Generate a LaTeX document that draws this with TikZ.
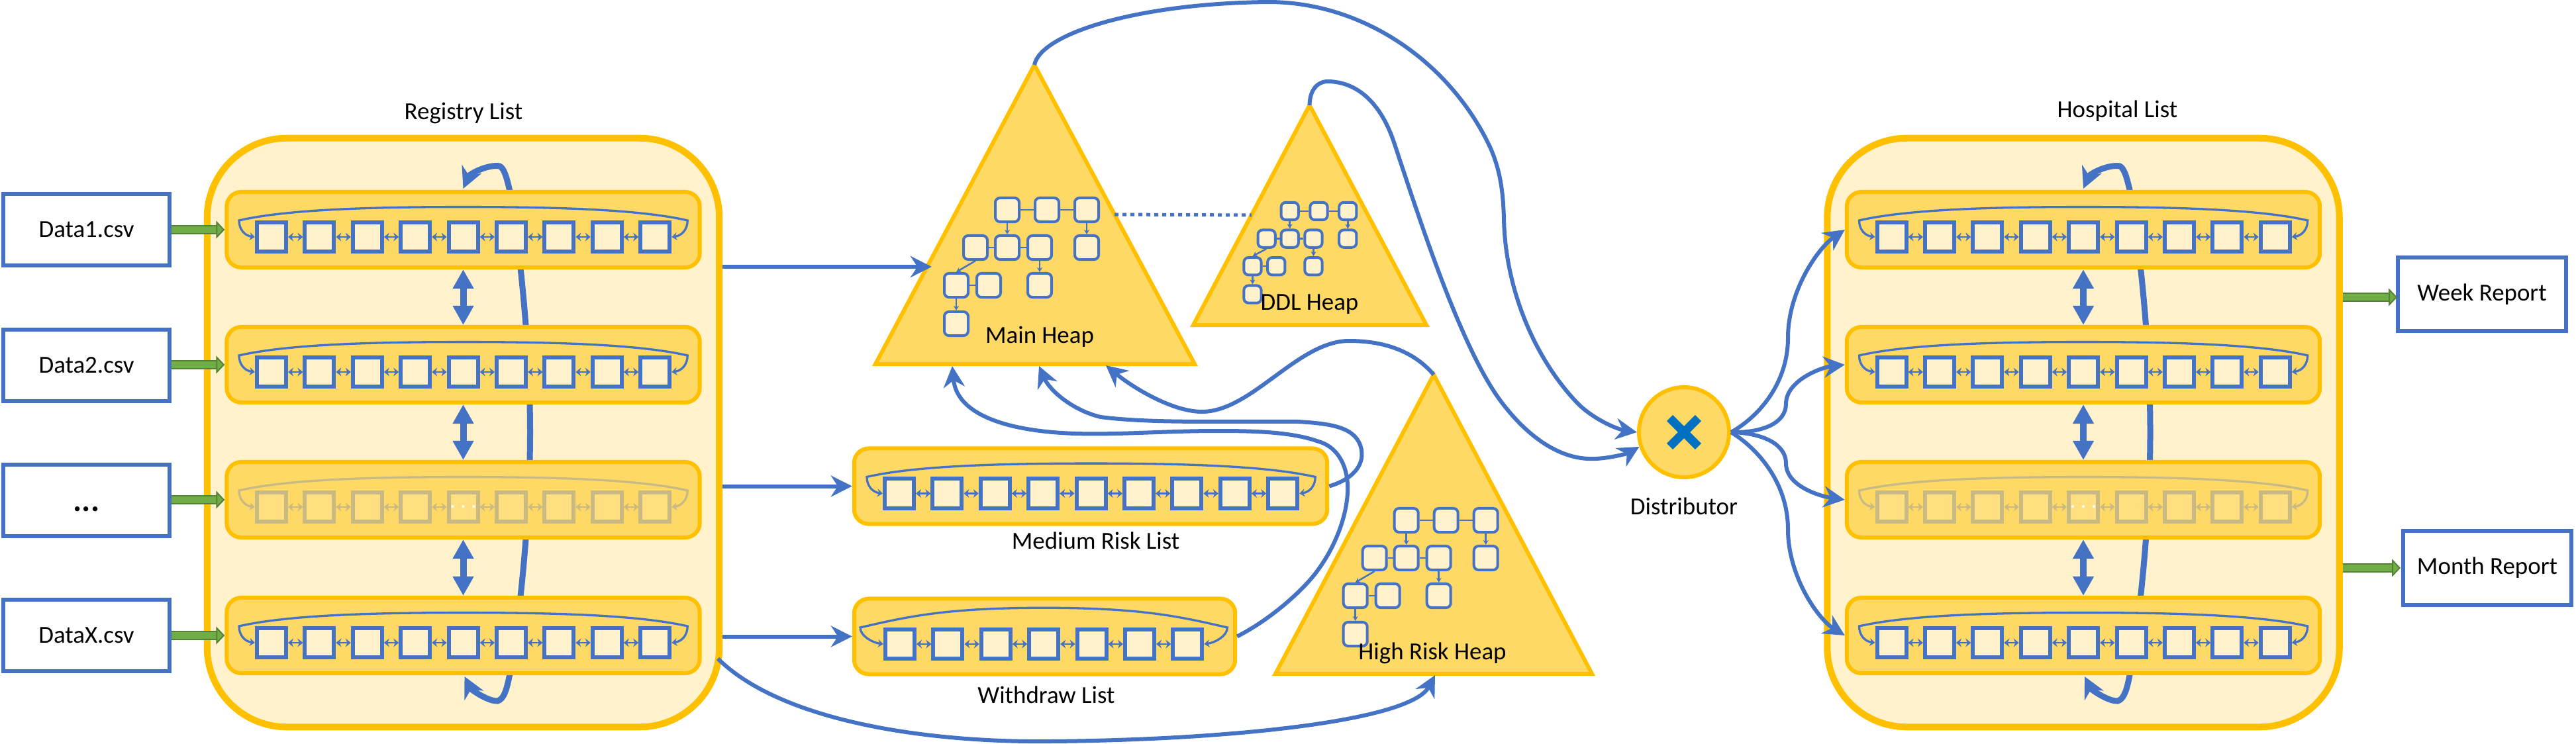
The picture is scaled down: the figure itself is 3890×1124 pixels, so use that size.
\documentclass[tikz,border=0pt]{standalone}
\usepackage{fontspec}
\setmainfont{Carlito}
\usetikzlibrary{arrows.meta}
\usetikzlibrary{calc}

\definecolor{linkblue}{HTML}{4472C4}
\definecolor{crossblue}{HTML}{0070C0}
\definecolor{gold}{HTML}{FFC000}
\definecolor{midyellow}{HTML}{FFD966}
\definecolor{paleyellow}{HTML}{FFF2CC}
\definecolor{greenfill}{HTML}{70AD47}
\definecolor{greenedge}{HTML}{548235}
\definecolor{fadedline}{HTML}{C9BA83}
\definecolor{fadedfill}{HTML}{FFDF80}
\colorlet{cellline}{linkblue}
\colorlet{cellfill}{paleyellow}

\tikzset{
    panel/.style={draw=gold, fill=paleyellow, line width=.1cm, rounded corners=1.2cm, inner sep=0pt, minimum width=7.73cm, minimum height=8.89cm},
    rowbox/.style={draw=gold, fill=midyellow, line width=.06cm, rounded corners=.22cm, inner sep=0pt, minimum height=1.14cm},
    cellbox/.style={draw=cellline, fill=cellfill, line width=.06cm, inner sep=0pt, minimum size=.44cm},
    heapbody/.style={draw=gold, fill=midyellow, line width=.06cm},
    heapcell/.style={draw=linkblue, fill=paleyellow, line width=.04cm, rounded corners=.07cm, inner sep=0pt},
    databox/.style={draw=linkblue, fill=white, line width=.06cm, inner sep=0pt, minimum width=2.51cm, minimum height=1.07cm, font=\fontsize{10.5}{12}\selectfont},
    reportbox/.style={databox, minimum width=2.54cm, minimum height=1.11cm},
    namelabel/.style={inner sep=0pt, font=\fontsize{10.5}{12}\selectfont},
    cellarrow/.style={draw=cellline, line width=.025cm, {Stealth[length=.08cm,width=.13cm]}-{Stealth[length=.08cm,width=.13cm]}},
    cellarc/.style={draw=cellline, line width=.033cm, {Stealth[length=.08cm,width=.12cm]}-{Stealth[length=.08cm,width=.12cm]}},
    rowlink/.style={draw=linkblue, line width=.1cm, {Triangle[length=.29cm,width=.3cm]}-{Triangle[length=.29cm,width=.3cm]}},
    backlink/.style={draw=linkblue, line width=.09cm, {Stealth[length=.32cm,width=.32cm]}-{Stealth[length=.32cm,width=.32cm]}},
    flow/.style={draw=linkblue, line width=.06cm, -{Stealth[length=.32cm,width=.32cm]}},
    feed/.style={draw=greenedge, line width=.02cm, double=greenfill, double distance=.1cm, -{Triangle[length=.13cm,width=.27cm,fill=greenfill]}},
    treebar/.style={draw=linkblue, line width=.025cm},
    treearrow/.style={draw=linkblue, line width=.025cm, -{Stealth[length=.07cm,width=.08cm]}},
}

\newcommand{\celllist}[5]{
    \foreach \cnum [evaluate=\cnum as \cellx using #2+(\cnum-1)*72.4] in {1,...,#4}{
        \node[cellbox] (#1c\cnum) at (\cellx,#3) {};
    }
    \foreach \cnum [remember=\cnum as \prevnum (initially 1)] in {2,...,#4}{
        \draw[cellarrow] (#1c\prevnum) -- (#1c\cnum);
    }
    \coordinate (#1arcl) at ([shift={(-#5,-25)}]#1c1.west);
    \coordinate (#1arcr) at ([shift={(#5,-25)}]#1c#4.east);
    \coordinate (#1arct) at ($(#1arcl)!.5!(#1arcr)+(0,-#5*.85)$);
    \draw[cellarc] (#1c1.west) .. controls +(-16,-2) and +(0,13) .. (#1arcl)
        .. controls +(70,-16) and +(-150,0) .. (#1arct)
        .. controls +(150,0) and +(-70,-16) .. (#1arcr)
        .. controls +(0,13) and +(16,-2) .. (#1c#4.east);
}

\newcommand{\listpanel}[2]{
    \node[panel] (#1) at (#2,653.5) {};
    \coordinate (#1looptop) at (#2,285);
    \coordinate (#1loopbot) at (#2+2,1022);
    \draw[backlink] (#1looptop) .. controls (#2+10,262) and (#2+38,248) .. (#2+55,251)
        .. controls (#2+62,254) and (#2+66,270) .. (#2+70,287)
        .. controls (#2+85,370) and (#2+101,520) .. (#2+101,653)
        .. controls (#2+101,786) and (#2+85,936) .. (#2+70,1020)
        .. controls (#2+66,1040) and (#2+62,1056) .. (#2+52,1059)
        .. controls (#2+38,1060) and (#2+12,1042) .. (#1loopbot);
    \foreach \rownum/\rowy in {1/347,2/551,3/755,4/960}{
        \node[rowbox, minimum width=7.14cm] (#1r\rownum) at (#2,\rowy) {};
        \ifnum\rownum=3
            \colorlet{cellline}{fadedline}
            \colorlet{cellfill}{fadedfill}
        \fi
        \celllist{#1r\rownum}{#2-289.5}{\rowy+11}{9}{24}
    }
    \node[text=white, inner sep=0pt, font=\fontsize{8}{8}\selectfont\bfseries] (#1dots) at (#1r3c5) {.\kern.3em.\kern.3em.};
    \draw[rowlink] (#1r1.south) -- (#1r2.north);
    \draw[rowlink] (#1r2.south) -- (#1r3.north);
    \draw[rowlink] (#1r3.south) -- (#1r4.north);
}

\newcommand{\heaptree}[4]{
    \foreach \tname/\dx/\dy in {a/0/0,b/60/0,c/120/0,d/-48/57,e/0/57,f/49/57,g/120/57,h/-77/114,i/-28/114,j/49/114,k/-77/172}{
        \node[heapcell, minimum size=#4*.36cm] (#1\tname) at (#2+#4*\dx,#3+#4*\dy) {};
    }
    \foreach \ta/\tb in {a/b,b/c,d/e,e/f,h/i}{
        \draw[treebar] (#1\ta) -- (#1\tb);
    }
    \foreach \ta/\tb in {a/e,c/g,f/j,d/h,h/k}{
        \draw[treearrow] (#1\ta.south) -- (#1\tb.north);
    }
}

\begin{document}
\begin{tikzpicture}[x=.01cm, y=-.01cm]
        \useasboundingbox (0,0) rectangle (3890,1124);

        \listpanel{reg}{699.5}
        \listpanel{hosp}{3146}
        \node[namelabel] (reglabel) at (700,171) {Registry List};
        \node[namelabel] (hosplabel) at (3197.5,168) {Hospital List};

        \node[databox] (data1) at (130.5,347) {Data1.csv};
        \node[databox] (data2) at (130.5,552) {Data2.csv};
        \node[databox] (data3) at (130.5,756) {};
        \node[font=\fontsize{14}{14}\selectfont\bfseries, inner sep=0pt] (dots) at (130.5,769) {...};
        \node[databox] (data4) at (130.5,960) {DataX.csv};
        \foreach \rownum in {1,2,3,4}{
            \draw[feed] (data\rownum.east |- regr\rownum.west) -- (regr\rownum.west);
        }

        \node[reportbox] (week) at (3748,444.5) {Week Report};
        \node[reportbox] (month) at (3756,858) {Month Report};
        \coordinate (weekin) at (3620,449);
        \coordinate (monthin) at (3625,858);
        \draw[feed] (hosp.east |- weekin) -- (weekin);
        \draw[feed] (hosp.east |- monthin) -- (monthin);

        \draw[heapbody] (1562,98) coordinate (maintop) -- (1322,550) coordinate (mainleft) -- (1804,550) coordinate (mainright) -- cycle;
        \draw[heapbody] (1977.5,159) coordinate (ddltop) -- (1802,491) coordinate (ddlleft) -- (2154,491) coordinate (ddlright) -- cycle;
        \draw[heapbody] (2165,566) coordinate (hightop) -- (1926,1018) coordinate (highleft) -- (2404,1018) coordinate (highright) -- cycle;
        \heaptree{mt}{1521}{317}{1}
        \heaptree{dt}{1947.7}{319}{.73}
        \heaptree{ht}{2123.7}{786}{1}
        \node[namelabel] (mainlabel) at (1570,509) {Main Heap};
        \node[namelabel] (ddllabel) at (1977.5,460) {DDL Heap};
        \node[namelabel] (highlabel) at (2163,987) {High Risk Heap};
        \draw[linkblue, line width=.05cm, dash pattern=on .06cm off .06cm] ($(maintop)!.5!(mainright)$) -- ($(ddltop)!.5!(ddlleft)$);

        \node[rowbox, minimum width=7.14cm] (med) at (1647,734.5) {};
        \celllist{med}{1358}{745.5}{9}{24}
        \node[namelabel] (medlabel) at (1654.6,817) {Medium Risk List};
        \node[rowbox, minimum width=5.75cm] (wd) at (1577.5,961.5) {};
        \celllist{wd}{1359}{973}{7}{35}
        \node[namelabel] (wdlabel) at (1580,1050) {Withdraw List};

        \coordinate (mainin) at (1407,403);
        \coordinate (mainfoot1) at (1438,553);
        \coordinate (mainfoot2) at (1569,553);
        \coordinate (mainfoot3) at (1670,552);
        \coordinate (regfoot) at (1084,995);
        \coordinate (highfoot) at (2167,1020);
        \draw[flow] (reg.east |- mainin) -- (mainin);
        \draw[flow] (reg.east |- med.west) -- (med.west);
        \draw[flow] (reg.east |- wd.west) -- (wd.west);
        \draw[flow] (regfoot) .. controls (1180,1090) and (1400,1122) .. (1586,1120)
            .. controls (1850,1118) and (2130,1090) .. (highfoot);
        \draw[flow] (med.east) .. controls (2040,725) and (2060,705) .. (2056,680)
            .. controls (2050,645) and (2010,640) .. (1960,637)
            .. controls (1850,636) and (1740,640) .. (1662,630)
            .. controls (1620,620) and (1585,590) .. (mainfoot2);
        \draw[flow] (wd.east) .. controls (1920,935) and (1970,890) .. (1991,860)
            .. controls (2020,820) and (2037,770) .. (2035,731)
            .. controls (2032,690) and (2010,672) .. (1991,667)
            .. controls (1950,652) and (1890,651) .. (1838,651)
            .. controls (1760,651) and (1690,657) .. (1624,655)
            .. controls (1530,652) and (1445,630) .. (mainfoot1);
        \draw[flow] (hightop) .. controls (2130,525) and (2080,515) .. (2037,515)
            .. controls (1960,515) and (1890,622) .. (1815,622)
            .. controls (1770,622) and (1710,585) .. (mainfoot3);

        \node[circle, draw=gold, fill=midyellow, line width=.06cm, inner sep=0pt, minimum size=1.36cm] (dist) at (2543,653) {};
        \draw[crossblue, line width=.13cm] (dist.center) +(-21.4,-21.4) -- +(21.4,21.4);
        \draw[crossblue, line width=.13cm] (dist.center) +(-21.4,21.4) -- +(21.4,-21.4);
        \node[namelabel] (distlabel) at (2543,765) {Distributor};

        \draw[flow] (maintop) .. controls (1572,50) and (1720,5) .. (1915,3)
            .. controls (2060,3) and (2190,95) .. (2250,222)
            .. controls (2268,262) and (2270,300) .. (2271,330)
            .. controls (2273,440) and (2320,545) .. (2383,610)
            .. controls (2405,632) and (2440,648) .. (dist.west);
        \draw[flow] (ddltop) .. controls (1978,130) and (1995,122) .. (2007,123)
            .. controls (2060,125) and (2090,170) .. (2105,215)
            .. controls (2140,320) and (2205,525) .. (2267,607)
            .. controls (2310,664) and (2360,696) .. (2410,693)
            .. controls (2432,692) and (2458,685) .. (dist.198);

        \draw[flow] (dist.east) .. controls (2655,630) and (2700,580) .. (2700,510)
            .. controls (2700,440) and (2745,375) .. (hospr1.west);
        \draw[flow] (dist.east) .. controls (2660,654) and (2697,640) .. (2697,610)
            .. controls (2697,575) and (2750,555) .. (hospr2.west);
        \draw[flow] (dist.east) .. controls (2660,654) and (2697,670) .. (2697,700)
            .. controls (2697,735) and (2750,750) .. (hospr3.west);
        \draw[flow] (dist.east) .. controls (2655,678) and (2700,730) .. (2700,800)
            .. controls (2700,870) and (2745,935) .. (hospr4.west);
    \end{tikzpicture}
\end{document}
